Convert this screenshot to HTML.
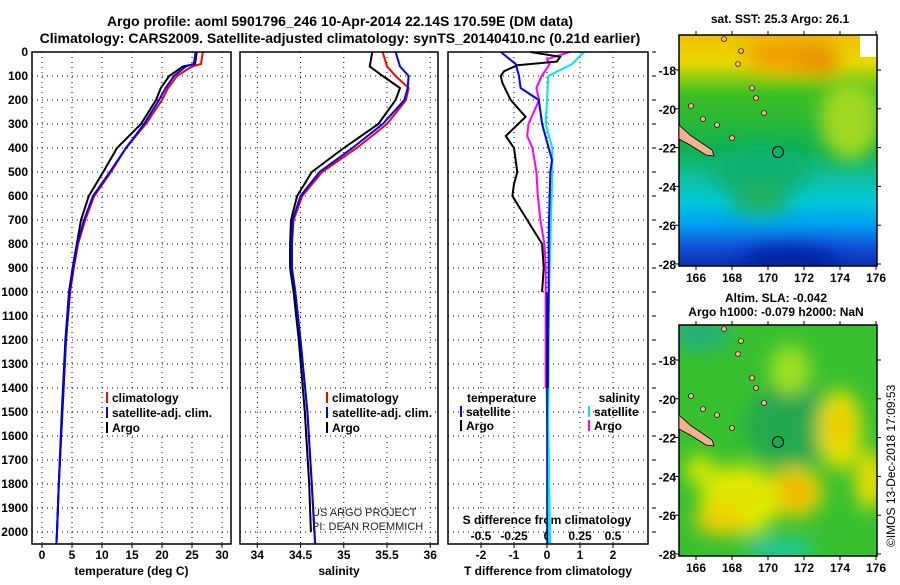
<!DOCTYPE html>
<html><head><meta charset="utf-8"><style>
body{margin:0;background:#fff;font-family:"Liberation Sans",sans-serif}
svg text{font-family:"Liberation Sans",sans-serif;font-weight:bold}
</style></head><body>
<svg id="c" width="900" height="580" xmlns="http://www.w3.org/2000/svg">
<defs>
<linearGradient id="sstg" x1="0" y1="0" x2="0" y2="1">
<stop offset="0" stop-color="#f0c000"/><stop offset="0.12" stop-color="#e8d800"/><stop offset="0.25" stop-color="#40c020"/>
<stop offset="0.5" stop-color="#10b050"/><stop offset="0.62" stop-color="#10c0a0"/><stop offset="0.72" stop-color="#00c8d8"/>
<stop offset="0.82" stop-color="#00a0f0"/><stop offset="0.92" stop-color="#1050d8"/><stop offset="1" stop-color="#0830b0"/></linearGradient>
<filter id="bl"><feGaussianBlur stdDeviation="9"/></filter>
<clipPath id="cm1"><rect x="679" y="35" width="198" height="231"/></clipPath>
<clipPath id="cm2"><rect x="679" y="325" width="198" height="231"/></clipPath>
</defs>
<text x="340" y="26" font-size="14" text-anchor="middle">Argo profile: aoml 5901796_246 10-Apr-2014 22.14S 170.59E (DM data)</text>
<text x="340" y="43" font-size="14" text-anchor="middle">Climatology: CARS2009. Satellite-adjusted climatology: synTS_20140410.nc (0.21d earlier)</text>
<g id="plots"></g>
<g clip-path="url(#cm1)">
<rect x="679" y="35" width="198" height="231" fill="url(#sstg)"/>
<g filter="url(#bl)">
<ellipse cx="790" cy="55" rx="45" ry="18" fill="#f0a000"/>
<ellipse cx="820" cy="60" rx="20" ry="15" fill="#e89000"/>
<ellipse cx="850" cy="120" rx="30" ry="40" fill="#a0d820"/>
<ellipse cx="760" cy="170" rx="50" ry="25" fill="#10b070"/>
<ellipse cx="760" cy="200" rx="30" ry="15" fill="#20b060"/>
<ellipse cx="790" cy="262" rx="50" ry="15" fill="#0020a0"/>
</g>
<rect x="860" y="35" width="20" height="22" fill="#fff"/>
</g>
<g clip-path="url(#cm2)">
<rect x="679" y="325" width="198" height="231" fill="#38c030"/>
<g filter="url(#bl)">
<ellipse cx="790" cy="425" rx="45" ry="40" fill="#20a850"/>
<ellipse cx="700" cy="335" rx="30" ry="15" fill="#20b080"/>
<ellipse cx="790" cy="370" rx="20" ry="25" fill="#a0e020"/>
<ellipse cx="840" cy="430" rx="22" ry="40" fill="#e8e000"/>
<ellipse cx="840" cy="425" rx="10" ry="15" fill="#f0c000"/>
<ellipse cx="795" cy="492" rx="28" ry="25" fill="#f0d000"/>
<ellipse cx="795" cy="492" rx="14" ry="12" fill="#f0b000"/>
<ellipse cx="740" cy="500" rx="40" ry="35" fill="#e0e800"/>
<ellipse cx="720" cy="520" rx="25" ry="15" fill="#f0d000"/>
<ellipse cx="700" cy="470" rx="15" ry="15" fill="#d0e800"/>
<ellipse cx="870" cy="480" rx="15" ry="30" fill="#e8e000"/>
<ellipse cx="780" cy="550" rx="35" ry="12" fill="#20c8a0"/>
</g>
</g>
<g id="mapdeco"></g>
<text x="780" y="23" font-size="12" text-anchor="middle">sat. SST: 25.3 Argo: 26.1</text>
<text x="776" y="302" font-size="12" text-anchor="middle">Altim. SLA: -0.042</text>
<text x="776" y="316" font-size="12" text-anchor="middle">Argo h1000: -0.079 h2000: NaN</text>
<text transform="translate(895,547) rotate(-90)" font-size="12" style="font-weight:normal">©IMOS 13-Dec-2018 17:09:53</text>
<text x="312" y="516" font-size="11" style="font-weight:normal" fill="#222">US ARGO PROJECT</text>
<text x="312" y="530" font-size="11" style="font-weight:normal" fill="#222">PI: DEAN ROEMMICH</text>
</svg>
<script>
// ---- data ----
const tDepth = [0,50,60,100,150,200,300,400,500,600,700,800,900,1000,1200,1500,1800,2000,2050];
const tClim  = [26.8,26.5,25.0,22.5,21.0,20.0,17.3,14.0,11.5,8.7,7.2,6.0,5.3,4.7,4.0,3.4,2.8,2.5,2.4];
const tSat   = [25.6,25.3,24.0,22.0,20.6,19.5,17.0,14.0,11.3,8.5,7.0,5.9,5.2,4.6,4.0,3.4,2.8,2.5,2.4];
const tArgo  = [25.8,25.5,23.5,21.2,19.8,19.0,16.5,12.5,10.2,7.8,6.5,5.8,5.1,4.5,3.9,3.3,2.8,2.5,2.4];
const sDepth = [0,60,100,150,200,300,400,500,600,700,800,900,1000,1200,1500,1800,2000,2050];
const sClim  = [35.45,35.5,35.6,35.75,35.72,35.5,35.15,34.75,34.52,34.42,34.4,34.4,34.44,34.5,34.58,34.63,34.66,34.67];
const sSat   = [35.6,35.65,35.75,35.74,35.7,35.45,35.1,34.72,34.5,34.41,34.4,34.4,34.44,34.5,34.58,34.63,34.66,34.67];
const sArgo  = [35.33,35.3,35.45,35.65,35.6,35.4,35.0,34.63,34.46,34.39,34.38,34.38,34.42,34.48,34.55,34.6,34.62];
const sArgoDepth = [0,60,100,150,200,300,400,500,600,700,800,900,1000,1200,1500,1800,2000];
const dtDepth = [0,50,100,150,200,300,400,450,500,600,700,800,900,1000,1200,1500,1800,2050];
const dtSat   = [-1.4,-0.95,-0.85,-0.8,-0.25,-0.15,0.05,0.15,0.1,0.08,0.06,0.05,0.05,0.05,0.03,0.02,0.02,0.02];
const dtArgoDepth = [0,20,40,55,80,100,130,200,270,350,400,500,550,600,700,800,900,1000];
const dtArgo  = [-0.5,0.4,0.3,-0.9,-1.3,-1.4,-1.35,-1.1,-0.65,-1.25,-1.0,-0.9,-1.0,-1.05,-0.6,-0.15,-0.1,-0.15];
const dsDepth = [0,50,100,200,300,400,500,700,1000,1500,2050];
const dsSat   = [0.28,0.19,0.01,0.0,-0.01,0.04,0.04,0.03,0.015,0.01,0.02];
const dsArgoDepth = [0,30,50,100,150,200,300,350,400,500,600,700,800,900,1000,1400];
const dsArgo  = [0.17,0.0,0.02,-0.04,-0.08,-0.06,-0.14,-0.15,-0.11,-0.08,-0.07,-0.05,-0.02,-0.01,-0.01,-0.01];
const depthTicks = [0,100,200,300,400,500,600,700,800,900,1000,1100,1200,1300,1400,1500,1600,1700,1800,1900,2000];
const tTicks = [0,5,10,15,20,25,30];
const sTicks = [34,34.5,35,35.5,36];
const dTTicks = [-2,-1,0,1,2];
const dSTicks = [-0.5,-0.25,0,0.25,0.5];
const dSTickLabels = ['-0.5','-0.25','0','0.25','0.5'];
// ---- drawing ----
const NS='http://www.w3.org/2000/svg';
const G=document.getElementById('plots');
function mk(tag,at,parent){const e=document.createElementNS(NS,tag);for(const k in at)e.setAttribute(k,at[k]);(parent||G).appendChild(e);return e;}
const Y0=52,Y1=544,D1=2050;
const yS=d=>Y0+(d/D1)*(Y1-Y0);
function panel(name,x0,x1,v0,v1){return {name,x0,x1,xs:v=>x0+(v-v0)/(v1-v0)*(x1-x0)};}
const P1=panel('temperature',32,231,-1.67,31.5);
const P2=panel('salinity',240,438,33.8,36.09);
const P3=panel('difference',448,648,-3,3.06);
const sx3=s=>P3.xs(s*4);
function frame(p,xt,xl,xlab){
  const g=mk('g',{});
  
  
  depthTicks.forEach(d=>{if(d>0&&d<2050){const l=mk('line',{x1:p.x0,x2:p.x1,y1:yS(d),y2:yS(d),stroke:'#000','stroke-dasharray':'1,4'},g);}});
  xt.forEach((v,i)=>{const x=p.xs(v);const l=mk('line',{x1:x,x2:x,y1:Y0,y2:Y1,stroke:'#000','stroke-dasharray':'1,4'},g);
    mk('line',{x1:x,x2:x,y1:Y1,y2:Y1+4,stroke:'#000'},g);
    const t=mk('text',{x:x,y:Y1+15,'font-size':12,'text-anchor':'middle'},g);t.textContent=xl[i];
    });
  const t=mk('text',{x:(p.x0+p.x1)/2,y:575,'font-size':12,'text-anchor':'middle'},g);t.textContent=xlab;
  
  return g;
}
function border(p){const r=mk('rect',{x:p.x0,y:Y0,width:p.x1-p.x0,height:Y1-Y0,fill:'none',stroke:'#000','stroke-width':1.5});
  }
frame(P1,tTicks,tTicks.map(String),'temperature (deg C)');
frame(P2,sTicks,sTicks.map(String),'salinity');
frame(P3,dTTicks,dTTicks.map(String),'T difference from climatology');
depthTicks.forEach(d=>{const t=mk('text',{x:28,y:yS(d)+4,'font-size':12,'text-anchor':'end'});t.textContent=d;
  });
depthTicks.forEach(d=>{mk('line',{x1:652,x2:656,y1:yS(d),y2:yS(d),stroke:'#000'});});
dSTicks.forEach((v,i)=>{const x=sx3(v);const t=mk('text',{x:x,y:540,'font-size':12,'text-anchor':'middle'});t.textContent=dSTickLabels[i];
  });
{const t=mk('text',{x:547,y:524,'font-size':12,'text-anchor':'middle'});t.textContent='S difference from climatology';
 }
function line(xs,depths,vals,color,name,w){
  const pts=vals.map((v,i)=>xs(v).toFixed(1)+','+yS(depths[i]).toFixed(1)).join(' ');
  const l=mk('polyline',{points:pts,fill:'none',stroke:color,'stroke-width':w||2});
  
}
line(P1.xs,tDepth,tClim,'#f00','temp-climatology-line');
line(P1.xs,tDepth,tArgo,'#000','temp-argo-line');
line(P1.xs,tDepth,tSat,'#00f','temp-satellite-line');
line(P2.xs,sDepth,sClim,'#f00','sal-climatology-line');
line(P2.xs,sArgoDepth,sArgo,'#000','sal-argo-line');
line(P2.xs,sDepth,sSat,'#00f','sal-satellite-line');
line(sx3,dsDepth,dsSat,'#00e8f0','sdiff-satellite-line');
line(sx3,dsArgoDepth,dsArgo,'#f0f','sdiff-argo-line');
line(P3.xs,dtDepth,dtSat,'#00f','tdiff-satellite-line');
line(P3.xs,dtArgoDepth,dtArgo,'#000','tdiff-argo-line');
function leg(x,y,color,label,name){
  mk('rect',{x:x,y:y-10,width:2,height:11,fill:color});
  const t=mk('text',{x:x+6,y:y,'font-size':12},G);t.textContent=label;
  
}
[[106,124],[326,110]].forEach(([x,w])=>{
  mk('rect',{x:x-2,y:390,width:w,height:44,fill:'#fff'});
  leg(x,402,'#f00','climatology','legend-climatology');
  leg(x,417,'#00f','satellite-adj. clim.','legend-satellite');
  leg(x,432,'#000','Argo','legend-argo');
});
{const t=mk('text',{x:467,y:402,'font-size':12});t.textContent='temperature';}
{const t=mk('text',{x:640,y:402,'font-size':12,'text-anchor':'end'});t.textContent='salinity';}
leg(460,416,'#00f','satellite','legend-t-satellite');
leg(460,430,'#000','Argo','legend-t-argo');
leg(588,416,'#00e8f0','satellite','legend-s-satellite');
leg(588,430,'#f0f','Argo','legend-s-argo');
line(sx3,[1400,2050],[0.0,0.02],'#00e8f0','sdiff-satellite-deep',3);
line(P3.xs,[1000,2050],[0.0,0.0],'#000080','tdiff-satellite-deep',1.5);
border(P1);border(P2);border(P3);
// maps decorations
const M=document.getElementById('mapdeco');
const lonTicks=[166,168,170,172,174,176];
const latTicks=[-18,-20,-22,-24,-26,-28];
const lonX=l=>696+(l-166)*18;
[[35,266],[325,556]].forEach(([ya,yb])=>{
  mk('rect',{x:679,y:ya,width:198,height:yb-ya,fill:'none',stroke:'#000','stroke-width':1.5},M);
  lonTicks.forEach(l=>{const x=lonX(l);mk('line',{x1:x,x2:x,y1:yb,y2:yb+4,stroke:'#000'},M);mk('line',{x1:x,x2:x,y1:ya,y2:ya-4,stroke:'#000'},M);
    const t=mk('text',{x:x,y:yb+16,'font-size':12,'text-anchor':'middle'},M);t.textContent=l;});
  latTicks.forEach(l=>{const y=ya+35+(-18-l)*19.4;mk('line',{x1:679,x2:675,y1:y,y2:y,stroke:'#000'},M);mk('line',{x1:877,x2:881,y1:y,y2:y,stroke:'#000'},M);
    const t=mk('text',{x:676,y:y+5,'font-size':12,'text-anchor':'end'},M);t.textContent=l;});
  mk('polygon',{points:`679,${ya+90} 690,${ya+100} 712,${ya+115} 714,${ya+121} 706,${ya+120} 690,${ya+110} 679,${ya+104}`,fill:'#f5b090',stroke:'#000','stroke-width':0.8},M);
  [[724,ya+4],[741,ya+16],[738,ya+29],[752,ya+53],[756,ya+63],[764,ya+78],[691,ya+71],[703,ya+84],[717,ya+90],[732,ya+103]].forEach(([x,y])=>mk('ellipse',{cx:x,cy:y,rx:2.5,ry:2.5,fill:'#f5b090',stroke:'#000','stroke-width':0.6},M));
  mk('circle',{cx:778,cy:ya+117,r:5.5,fill:'none',stroke:'#000','stroke-width':1},M);
});
</script>
</body></html>
